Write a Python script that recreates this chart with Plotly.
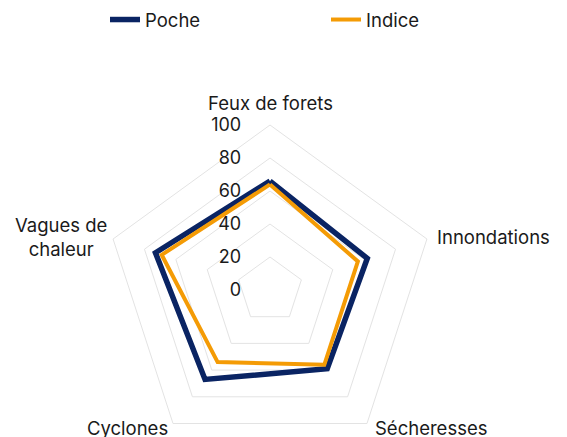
import math
import plotly.graph_objects as go

categories = ["Feux de forets", "Innondations", "Sécheresses", "Cyclones", "Vagues de<br>chaleur"]
poche = [66, 62, 59, 67, 73]
indice = [64, 56, 56, 54, 69]
tick_vals = [0, 20, 40, 60, 80, 100]

W, H = 567, 470
cx, cy, R = 270, 290, 165

fig = go.Figure()
fig.add_trace(go.Scatterpolar(
    r=poche + poche[:1], theta=categories + categories[:1], mode="lines",
    name="Poche", line=dict(color="#0a2463", width=5.5)))
fig.add_trace(go.Scatterpolar(
    r=indice + indice[:1], theta=categories + categories[:1], mode="lines",
    name="Indice", line=dict(color="#f49b05", width=4)))

font_fam = "Inter, Lato, sans-serif"
txt_col = "#1a1a1a"

# category labels placed around the pentagon (Excel-like placement)
label_specs = [  # (dx, dy, xanchor) offsets relative to each outer vertex
    (0, -22, "center"),
    (8, -2, "left"),
    (6, 5, "left"),
    (-3, 5, "right"),
    (-52, -2, "center"),
]
annotations = []
n = len(categories)
for i, (cat, (ox, oy, xa)) in enumerate(zip(categories, label_specs)):
    ang = math.radians(90 - 360 * i / n)
    vx = cx + R * math.cos(ang)
    vy = cy - R * math.sin(ang)
    annotations.append(dict(
        text=cat, xref="paper", yref="paper",
        x=(vx + ox) / W, y=1 - (vy + oy) / H,
        xanchor=xa, yanchor="middle", align="center", showarrow=False,
        font=dict(family=font_fam, size=18.5, color=txt_col)))

fig.update_layout(
    width=W, height=H,
    margin=dict(l=0, r=0, t=0, b=0),
    paper_bgcolor="white", plot_bgcolor="white",
    font=dict(family=font_fam, size=18.5, color=txt_col),
    showlegend=True,
    legend=dict(orientation="h", x=105 / W, xanchor="left", y=1 - 20 / H, yanchor="middle",
                entrywidth=176, font=dict(size=18.5)),
    annotations=annotations,
    polar=dict(
        domain=dict(x=[(cx - R) / W, (cx + R) / W], y=[(H - cy - R) / H, (H - cy + R) / H]),
        gridshape="linear",
        bgcolor="white",
        radialaxis=dict(range=[0, 100], tickvals=tick_vals, angle=90, tickangle=90,
                        side="counterclockwise", showline=False,
                        ticks="outside", ticklen=22, tickcolor="rgba(0,0,0,0)",
                        gridcolor="#e3e3e3", gridwidth=1, tickfont=dict(size=18)),
        angularaxis=dict(rotation=90, direction="clockwise", showgrid=False,
                         showline=True, linecolor="#e3e3e3", linewidth=1, ticks="",
                         showticklabels=False),
    ),
)

fig.write_html("out.html", config={"displayModeBar": False},
               post_script="document.body.style.margin='0';document.body.style.overflow='hidden';")
